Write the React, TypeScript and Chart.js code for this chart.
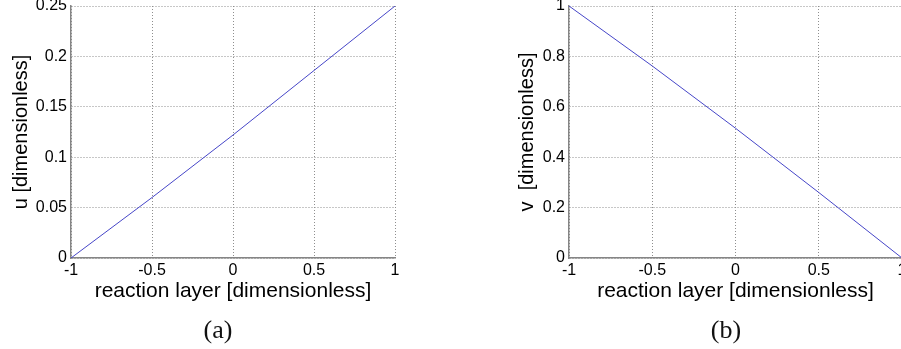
import React, { useEffect, useRef } from "react";
import { Chart, registerables } from "chart.js";

Chart.register(...registerables);

// ---- data ----
const xValues = [-1, -0.5, 0, 0.5, 1];
const uValues = [0, 0.06, 0.122, 0.186, 0.25];
const vValues = [1, 0.762, 0.515, 0.26, 0];

const xTicks = [-1, -0.5, 0, 0.5, 1];
const uTicks = [0, 0.05, 0.1, 0.15, 0.2, 0.25];
const vTicks = [0, 0.2, 0.4, 0.6, 0.8, 1];

const xTitle = "reaction layer [dimensionless]";
const uTitle = "u [dimensionless]";
const vTitle = "v  [dimensionless]";
const captions = ["(a)", "(b)"];

const SANS = "'Liberation Sans', Arial, Helvetica, sans-serif";

type PanelProps = {
  xs: number[];
  ys: number[];
  yTicks: number[];
  yMax: number;
  yTitle: string;
  canvasLeft: number;
  canvasWidth: number;
  yAxisWidth: number;
  padRight: number;
  yTitlePad: number;
};

function Panel(p: PanelProps) {
  const ref = useRef<HTMLCanvasElement | null>(null);
  useEffect(() => {
    if (!ref.current) return;
    const chart = new Chart(ref.current, {
      type: "line",
      data: {
        datasets: [
          {
            data: p.xs.map((x, i) => ({ x, y: p.ys[i] })),
            borderColor: "#4646c8",
            borderWidth: 1,
            pointRadius: 0,
            tension: 0,
            fill: false,
          },
        ],
      },
      options: {
        animation: false,
        responsive: false,
        maintainAspectRatio: false,
        devicePixelRatio: 1,
        layout: { padding: { top: 26, right: p.padRight, left: 0, bottom: 0 } },
        plugins: { legend: { display: false }, tooltip: { enabled: false } },
        scales: {
          x: {
            type: "linear",
            min: -1,
            max: 1,
            afterBuildTicks: (s: any) => {
              s.ticks = xTicks.map((v) => ({ value: v }));
            },
            afterFit: (s: any) => {
              s.height = 91;
            },
            ticks: {
              padding: 3,
              color: "#000",
              font: { family: SANS, size: 16 },
              maxRotation: 0,
              autoSkip: false,
              callback: (v: any) => String(v),
            },
            grid: { color: "#8e8e8e", lineWidth: 1, drawTicks: false },
            border: { display: true, color: "#858585", width: 1.5, dash: [1, 2] },
            title: {
              display: true,
              text: xTitle,
              color: "#000",
              font: { family: SANS, size: 21 },
              padding: { top: 0, bottom: 45 },
            },
          },
          y: {
            type: "linear",
            min: 0,
            max: p.yMax,
            afterBuildTicks: (s: any) => {
              s.ticks = p.yTicks.map((v) => ({ value: v }));
            },
            afterFit: (s: any) => {
              s.width = p.yAxisWidth;
            },
            ticks: {
              padding: 4,
              color: "#000",
              font: { family: SANS, size: 16 },
              autoSkip: false,
              callback: (v: any) => String(v),
            },
            grid: { color: "#8e8e8e", lineWidth: 1, drawTicks: false },
            border: { display: true, color: "#858585", width: 1.5, dash: [1, 2] },
            title: {
              display: true,
              text: p.yTitle,
              color: "#000",
              font: { family: SANS, size: 20 },
              padding: { top: p.yTitlePad, bottom: 0 },
            },
          },
        },
      },
    } as any);
    return () => chart.destroy();
  }, []);
  return (
    <canvas
      ref={ref}
      width={p.canvasWidth}
      height={369}
      style={{
        position: "absolute",
        left: p.canvasLeft,
        top: -20,
        width: p.canvasWidth,
        height: 369,
      }}
    />
  );
}

export default function App() {
  return (
    <div
      style={{
        position: "absolute",
        left: 0,
        top: 0,
        width: 901,
        height: 349,
        overflow: "hidden",
        background: "#fff",
      }}
    >
      <Panel
        xs={xValues}
        ys={uValues}
        yTicks={uTicks}
        yMax={0.25}
        yTitle={uTitle}
        canvasLeft={0}
        canvasWidth={450}
        yAxisWidth={71}
        padRight={55}
        yTitlePad={9}
      />
      <Panel
        xs={xValues}
        ys={vValues}
        yTicks={vTicks}
        yMax={1}
        yTitle={vTitle}
        canvasLeft={450}
        canvasWidth={470}
        yAxisWidth={119}
        padRight={18}
        yTitlePad={65}
      />
      {captions.map((c, i) => (
        <div
          key={c}
          style={{
            position: "absolute",
            left: i === 0 ? 168 : 676,
            width: 100,
            top: 315,
            textAlign: "center",
            fontFamily: "'Liberation Serif', 'Times New Roman', serif",
            fontSize: 26,
            lineHeight: "30px",
            color: "#111",
          }}
        >
          {c}
        </div>
      ))}
    </div>
  );
}
